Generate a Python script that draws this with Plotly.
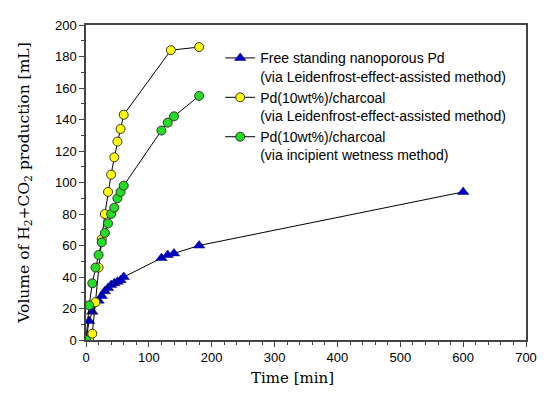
import plotly.graph_objects as go

# Free standing nanoporous Pd (Leidenfrost)
np_time = [0, 5, 10, 20, 25, 30, 35, 40, 45, 50, 55, 60, 120, 130, 140, 180, 600]
np_vol = [0, 12, 18, 25, 28, 31, 33, 35, 36, 37, 38, 40, 52, 54, 55, 60, 94]

# Pd(10wt%)/charcoal (Leidenfrost)
lf_time = [5, 10, 15, 20, 25, 30, 35, 40, 45, 50, 55, 60, 135, 180]
lf_vol = [0, 4, 24, 46, 64, 80, 94, 105, 116, 126, 134, 143, 184, 186]

# Pd(10wt%)/charcoal (incipient wetness)
iw_time = [0, 5, 10, 15, 20, 25, 30, 35, 40, 45, 50, 55, 60, 120, 130, 140, 180]
iw_vol = [0, 22, 36, 46, 54, 62, 68, 74, 80, 84, 90, 94, 98, 133, 138, 142, 155]

names = [
    "Free standing nanoporous Pd<br>(via Leidenfrost-effect-assisted method)",
    "Pd(10wt%)/charcoal<br>(via Leidenfrost-effect-assisted method)",
    "Pd(10wt%)/charcoal<br>(via incipient wetness method)",
]

x_ticks = [0, 100, 200, 300, 400, 500, 600, 700]
y_ticks = [0, 20, 40, 60, 80, 100, 120, 140, 160, 180, 200]

fig = go.Figure()
fig.add_trace(go.Scatter(
    x=np_time, y=np_vol, name=names[0], mode="lines+markers",
    line=dict(color="black", width=1),
    marker=dict(symbol="triangle-up", size=10, color="#0000cc",
                line=dict(color="#000066", width=0.5)),
))
fig.add_trace(go.Scatter(
    x=lf_time, y=lf_vol, name=names[1], mode="lines+markers",
    line=dict(color="black", width=1),
    marker=dict(symbol="circle", size=9, color="#ffff00",
                line=dict(color="#333333", width=1)),
))
fig.add_trace(go.Scatter(
    x=iw_time, y=iw_vol, name=names[2], mode="lines+markers",
    line=dict(color="black", width=1),
    marker=dict(symbol="circle", size=9, color="#22dd22",
                line=dict(color="#333333", width=1)),
))

axis_common = dict(
    showline=True, linecolor="#444444", linewidth=1.5, mirror=True,
    ticks="outside", ticklen=5, tickcolor="#444444", tickwidth=1,
    showgrid=False, zeroline=False,
    tickfont=dict(family="Liberation Sans, Arial", size=13, color="black"),
)

# page body has an 8px margin, so the figure is shrunk by 8px to fit the window
fig.update_layout(
    width=539, height=393,
    margin=dict(l=78, r=16, t=10, b=61),
    paper_bgcolor="white", plot_bgcolor="white",
    showlegend=True,
    legend=dict(
        x=0.305, y=0.945, xanchor="left", yanchor="top",
        font=dict(family="Liberation Sans, Arial", size=14, color="black"),
        bgcolor="rgba(0,0,0,0)", valign="top", tracegroupgap=2,
    ),
    xaxis=dict(
        range=[0, 700], tickvals=x_ticks,
        minor=dict(dtick=20, ticks="outside", ticklen=3, tickcolor="#444444"),
        **axis_common,
    ),
    yaxis=dict(
        range=[0, 200], tickvals=y_ticks,
        minor=dict(dtick=10, ticks="outside", ticklen=3, tickcolor="#444444"),
        title=dict(text="Volume of H<sub>2</sub>+CO<sub>2</sub> production [mL]",
                   font=dict(family="DejaVu Serif", size=15.5, color="black"), standoff=22),
        **axis_common,
    ),
    annotations=[dict(
        text="Time [min]", xref="paper", yref="paper", x=0.47, y=-0.121,
        xanchor="center", yanchor="middle", showarrow=False,
        font=dict(family="DejaVu Serif", size=15, color="black"),
    )],
)

fig.write_html("out.html")
